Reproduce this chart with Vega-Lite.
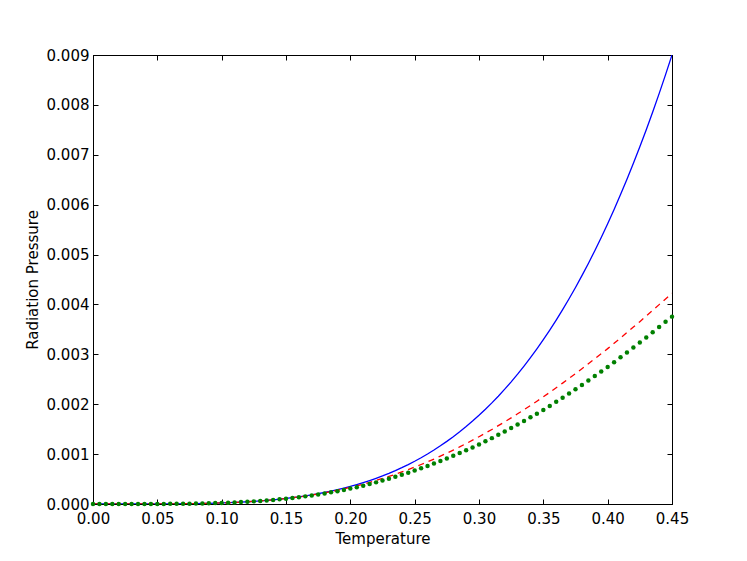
{
  "$schema": "https://vega.github.io/schema/vega-lite/v6.json",
  "width": 579,
  "height": 449,
  "autosize": {"type": "none"},
  "padding": {"left": 93, "top": 55, "right": 75, "bottom": 57},
  "background": "white",
  "config": {
    "view": {"stroke": "black", "strokeWidth": 1},
    "font": "DejaVu Sans",
    "axis": {
      "grid": false,
      "domainColor": "black",
      "domainWidth": 1,
      "tickColor": "black",
      "tickSize": -5,
      "tickWidth": 1,
      "labelFont": "DejaVu Sans",
      "labelFontSize": 15,
      "labelColor": "black",
      "labelFlush": false,
      "labelOverlap": false,
      "titleFont": "DejaVu Sans",
      "titleFontSize": 15,
      "titleFontWeight": "normal",
      "titleColor": "black"
    }
  },
  "data": {
    "values": [
      {"T": 0, "blue": 0, "red": 0, "green": 0},
      {"T": 0.005, "blue": 1.37e-10, "red": 1.37e-10, "green": 1.37e-10},
      {"T": 0.01, "blue": 2.19e-9, "red": 2.19e-9, "green": 2.19e-9},
      {"T": 0.015, "blue": 1.111e-8, "red": 1.111e-8, "green": 1.111e-8},
      {"T": 0.02, "blue": 3.512e-8, "red": 3.512e-8, "green": 3.512e-8},
      {"T": 0.025, "blue": 8.573e-8, "red": 8.573e-8, "green": 8.573e-8},
      {"T": 0.03, "blue": 1.778e-7, "red": 1.778e-7, "green": 1.778e-7},
      {"T": 0.035, "blue": 3.294e-7, "red": 3.294e-7, "green": 3.294e-7},
      {"T": 0.04, "blue": 5.619e-7, "red": 5.619e-7, "green": 5.619e-7},
      {"T": 0.045, "blue": 9.0e-7, "red": 9.0e-7, "green": 9.0e-7},
      {"T": 0.05, "blue": 1.3718e-6, "red": 1.3718e-6, "green": 1.3718e-6},
      {"T": 0.055, "blue": 2.0084e-6, "red": 2.0084e-6, "green": 2.0084e-6},
      {"T": 0.06, "blue": 2.8445e-6, "red": 2.8445e-6, "green": 2.8445e-6},
      {"T": 0.065, "blue": 3.9179e-6, "red": 3.9179e-6, "green": 3.9179e-6},
      {"T": 0.07, "blue": 5.2697e-6, "red": 5.2697e-6, "green": 5.2697e-6},
      {"T": 0.075, "blue": 6.9445e-6, "red": 6.9445e-6, "green": 6.9445e-6},
      {"T": 0.08, "blue": 8.9898e-6, "red": 8.9898e-6, "green": 8.9898e-6},
      {"T": 0.085, "blue": 1.1457e-5, "red": 1.1457e-5, "green": 1.1457e-5},
      {"T": 0.09, "blue": 1.44e-5, "red": 1.44e-5, "green": 1.44e-5},
      {"T": 0.095, "blue": 1.7877e-5, "red": 1.7877e-5, "green": 1.7877e-5},
      {"T": 0.1, "blue": 2.1948e-5, "red": 2.1948e-5, "green": 2.1948e-5},
      {"T": 0.105, "blue": 2.6678e-5, "red": 2.6667e-5, "green": 2.6587e-5},
      {"T": 0.11, "blue": 3.2134e-5, "red": 3.2112e-5, "green": 3.1919e-5},
      {"T": 0.115, "blue": 3.8387e-5, "red": 3.8349e-5, "green": 3.8004e-5},
      {"T": 0.12, "blue": 4.5511e-5, "red": 4.5443e-5, "green": 4.4898e-5},
      {"T": 0.125, "blue": 5.3584e-5, "red": 5.3477e-5, "green": 5.2675e-5},
      {"T": 0.13, "blue": 6.2686e-5, "red": 6.2473e-5, "green": 6.1348e-5},
      {"T": 0.135, "blue": 7.2901e-5, "red": 7.2551e-5, "green": 7.1027e-5},
      {"T": 0.14, "blue": 8.4316e-5, "red": 8.3785e-5, "green": 8.1774e-5},
      {"T": 0.145, "blue": 9.7021e-5, "red": 9.6274e-5, "green": 9.3675e-5},
      {"T": 0.15, "blue": 0.00011111, "red": 0.0001101, "green": 0.0001068},
      {"T": 0.155, "blue": 0.00012668, "red": 0.00012511, "green": 0.00012086},
      {"T": 0.16, "blue": 0.00014384, "red": 0.0001416, "green": 0.00013622},
      {"T": 0.165, "blue": 0.00016268, "red": 0.00015961, "green": 0.00015291},
      {"T": 0.17, "blue": 0.00018331, "red": 0.00017926, "green": 0.00017101},
      {"T": 0.175, "blue": 0.00020585, "red": 0.00020062, "green": 0.00019059},
      {"T": 0.18, "blue": 0.0002304, "red": 0.00022328, "green": 0.00021122},
      {"T": 0.185, "blue": 0.00025709, "red": 0.00024773, "green": 0.00023336},
      {"T": 0.19, "blue": 0.00028603, "red": 0.00027405, "green": 0.00025706},
      {"T": 0.195, "blue": 0.00031735, "red": 0.00030231, "green": 0.00028236},
      {"T": 0.2, "blue": 0.00035117, "red": 0.00033259, "green": 0.00030931},
      {"T": 0.205, "blue": 0.00038762, "red": 0.00036417, "green": 0.00033777},
      {"T": 0.21, "blue": 0.00042685, "red": 0.00039778, "green": 0.00036795},
      {"T": 0.215, "blue": 0.00046898, "red": 0.00043352, "green": 0.00039992},
      {"T": 0.22, "blue": 0.00051415, "red": 0.00047137, "green": 0.00043366},
      {"T": 0.225, "blue": 0.0005625, "red": 0.00051143, "green": 0.00046924},
      {"T": 0.23, "blue": 0.00061419, "red": 0.00055277, "green": 0.00050578},
      {"T": 0.235, "blue": 0.00066938, "red": 0.00059635, "green": 0.00054417},
      {"T": 0.24, "blue": 0.00072819, "red": 0.00064205, "green": 0.00058427},
      {"T": 0.245, "blue": 0.00079079, "red": 0.00069004, "green": 0.00062621},
      {"T": 0.25, "blue": 0.00085734, "red": 0.00074023, "green": 0.00066991},
      {"T": 0.255, "blue": 0.00092801, "red": 0.00079178, "green": 0.00071498},
      {"T": 0.26, "blue": 0.00100296, "red": 0.0008455, "green": 0.0007618},
      {"T": 0.265, "blue": 0.00108239, "red": 0.00090131, "green": 0.00081028},
      {"T": 0.27, "blue": 0.00116641, "red": 0.00095937, "green": 0.00086055},
      {"T": 0.275, "blue": 0.00125524, "red": 0.00101963, "green": 0.00091257},
      {"T": 0.28, "blue": 0.00134905, "red": 0.0010814, "green": 0.00096569},
      {"T": 0.285, "blue": 0.00144802, "red": 0.00114524, "green": 0.00102041},
      {"T": 0.29, "blue": 0.00155234, "red": 0.00121098, "green": 0.00107656},
      {"T": 0.295, "blue": 0.0016622, "red": 0.0012789, "green": 0.00113438},
      {"T": 0.3, "blue": 0.00177779, "red": 0.00134881, "green": 0.0011937},
      {"T": 0.305, "blue": 0.0018993, "red": 0.00142068, "green": 0.00125631},
      {"T": 0.31, "blue": 0.00202694, "red": 0.00149426, "green": 0.00132033},
      {"T": 0.315, "blue": 0.00216091, "red": 0.0015699, "green": 0.00138606},
      {"T": 0.32, "blue": 0.00230142, "red": 0.00164712, "green": 0.00145309},
      {"T": 0.325, "blue": 0.00244866, "red": 0.00172631, "green": 0.00152174},
      {"T": 0.33, "blue": 0.00260286, "red": 0.00180768, "green": 0.00159221},
      {"T": 0.335, "blue": 0.00276424, "red": 0.00189046, "green": 0.00166379},
      {"T": 0.34, "blue": 0.002933, "red": 0.00197508, "green": 0.00173688},
      {"T": 0.345, "blue": 0.00310937, "red": 0.00206089, "green": 0.0018109},
      {"T": 0.35, "blue": 0.00329357, "red": 0.0021484, "green": 0.0018863},
      {"T": 0.355, "blue": 0.00348585, "red": 0.00223861, "green": 0.0019664},
      {"T": 0.36, "blue": 0.00368641, "red": 0.00233055, "green": 0.00204808},
      {"T": 0.365, "blue": 0.00389552, "red": 0.0024234, "green": 0.00213065},
      {"T": 0.37, "blue": 0.00411339, "red": 0.00251781, "green": 0.00221466},
      {"T": 0.375, "blue": 0.0043403, "red": 0.00261286, "green": 0.00229932},
      {"T": 0.38, "blue": 0.00457645, "red": 0.00271155, "green": 0.00238724},
      {"T": 0.385, "blue": 0.00482212, "red": 0.00281081, "green": 0.00247576},
      {"T": 0.39, "blue": 0.00507754, "red": 0.00291146, "green": 0.00256557},
      {"T": 0.395, "blue": 0.00534302, "red": 0.0030124, "green": 0.00265572},
      {"T": 0.4, "blue": 0.00561869, "red": 0.00311444, "green": 0.00274694},
      {"T": 0.405, "blue": 0.00590493, "red": 0.00322114, "green": 0.0028433},
      {"T": 0.41, "blue": 0.00620198, "red": 0.0033286, "green": 0.00294049},
      {"T": 0.415, "blue": 0.00651009, "red": 0.00343733, "green": 0.00303894},
      {"T": 0.42, "blue": 0.00682955, "red": 0.0035459, "green": 0.00313741},
      {"T": 0.425, "blue": 0.00716062, "red": 0.00365478, "green": 0.00323631},
      {"T": 0.43, "blue": 0.00750357, "red": 0.00376829, "green": 0.00333946},
      {"T": 0.435, "blue": 0.00785873, "red": 0.00388221, "green": 0.00344313},
      {"T": 0.44, "blue": 0.00822632, "red": 0.00399635, "green": 0.00354716},
      {"T": 0.445, "blue": 0.00860667, "red": 0.00411055, "green": 0.0036514},
      {"T": 0.45, "blue": 0.009, "red": 0.0042246, "green": 0.00375567}
    ]
  },
  "layer": [
    {
      "mark": {"type": "line", "color": "#0000ff", "strokeWidth": 1.3, "clip": true},
      "encoding": {
        "x": {
          "field": "T", "type": "quantitative",
          "scale": {"domain": [0, 0.45], "nice": false, "zero": false},
          "axis": {
            "orient": "bottom", "title": "Temperature", "format": ".2f",
            "values": [0, 0.05, 0.1, 0.15, 0.2, 0.25, 0.3, 0.35, 0.4, 0.45],
            "labelPadding": 12, "titlePadding": 5
          }
        },
        "y": {
          "field": "blue", "type": "quantitative",
          "scale": {"domain": [0, 0.009], "nice": false, "zero": false},
          "axis": {
            "orient": "left", "title": "Radiation Pressure", "format": ".3f",
            "values": [0, 0.001, 0.002, 0.003, 0.004, 0.005, 0.006, 0.007, 0.008, 0.009],
            "labelPadding": 9, "titlePadding": 6
          }
        }
      }
    },
    {
      "mark": {"type": "line", "color": "#ff0000", "strokeWidth": 1.3, "strokeDash": [6, 5], "clip": true},
      "encoding": {
        "x": {
          "field": "T", "type": "quantitative",
          "scale": {"domain": [0, 0.45], "nice": false, "zero": false},
          "axis": {
            "orient": "top", "title": null, "labels": false,
            "values": [0, 0.05, 0.1, 0.15, 0.2, 0.25, 0.3, 0.35, 0.4, 0.45]
          }
        },
        "y": {
          "field": "red", "type": "quantitative",
          "scale": {"domain": [0, 0.009], "nice": false, "zero": false},
          "axis": {
            "orient": "right", "title": null, "labels": false,
            "values": [0, 0.001, 0.002, 0.003, 0.004, 0.005, 0.006, 0.007, 0.008, 0.009]
          }
        }
      }
    },
    {
      "mark": {"type": "point", "filled": true, "color": "#008000", "opacity": 1, "size": 20, "strokeWidth": 0},
      "encoding": {
        "x": {
          "field": "T", "type": "quantitative",
          "scale": {"domain": [0, 0.45], "nice": false, "zero": false},
          "axis": null
        },
        "y": {
          "field": "green", "type": "quantitative",
          "scale": {"domain": [0, 0.009], "nice": false, "zero": false},
          "axis": null
        }
      }
    }
  ],
  "resolve": {"axis": {"x": "independent", "y": "independent"}}
}
